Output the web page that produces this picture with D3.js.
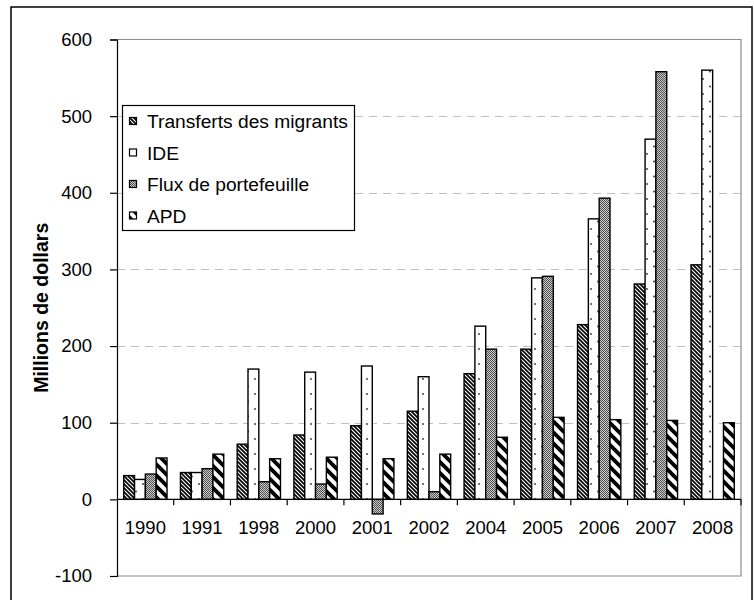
<!DOCTYPE html>
<html><head><meta charset="utf-8">
<script src="https://cdn.jsdelivr.net/npm/d3@7"></script>
<style>body{margin:0;background:#fff}svg{display:block}</style>
</head><body>
<svg id="c" width="754" height="600"></svg>
<script>
const categories = ["1990","1991","1998","2000","2001","2002","2004","2005","2006","2007","2008"];
const seriesNames = ["Transferts des migrants","IDE","Flux de portefeuille","APD"];
const transferts = [31, 35, 72, 84, 96, 115, 164, 196, 228, 281, 306];
const ide = [26, 35, 170, 166, 174, 160, 226, 289, 366, 470, 560];
const flux = [33, 40, 23, 20, -19, 10, 196, 291, 393, 558, null];
const apd = [54, 59, 53, 55, 53, 59, 81, 107, 104, 103, 100];
const yTicks = [-100, 0, 100, 200, 300, 400, 500, 600];
const yTitle = "Millions de dollars";

const seriesValues = [transferts, ide, flux, apd];
const patternIds = ["pT","pI","pF","pA"];

const svg = d3.select("#c");
const FONT = "'Liberation Sans', Arial, sans-serif";

// patterns
const defs = svg.append("defs");
{
  const p = defs.append("pattern").attr("id","pT").attr("patternUnits","userSpaceOnUse").attr("width",4).attr("height",4);
  p.append("rect").attr("width",4).attr("height",4).attr("fill","#fff");
  p.append("path").attr("d","M-1,-1L5,5M-1,3L1,5M3,-1L5,1").attr("stroke","#000").attr("stroke-width",1.7);
}
{
  const p = defs.append("pattern").attr("id","pA").attr("patternUnits","userSpaceOnUse").attr("width",11).attr("height",11);
  p.append("rect").attr("width",11).attr("height",11).attr("fill","#fff");
  p.append("path").attr("d","M-2,-2L13,13M-2,9L2,13M9,-2L13,2").attr("stroke","#000").attr("stroke-width",3.8);
}
{
  const p = defs.append("pattern").attr("id","pI").attr("patternUnits","userSpaceOnUse").attr("width",14).attr("height",15);
  p.append("rect").attr("width",14).attr("height",15).attr("fill","#fff");
  p.append("circle").attr("cx",3).attr("cy",4).attr("r",0.9).attr("fill","#333");
  p.append("circle").attr("cx",10).attr("cy",11.5).attr("r",0.9).attr("fill","#333");
}
{
  const p = defs.append("pattern").attr("id","pF").attr("patternUnits","userSpaceOnUse").attr("width",2).attr("height",2);
  p.append("rect").attr("width",2).attr("height",2).attr("fill","#cccccc");
  p.append("rect").attr("width",1).attr("height",1).attr("fill","#505050");
  p.append("rect").attr("x",1).attr("y",1).attr("width",1).attr("height",1).attr("fill","#505050");
}

// outer frame
svg.append("rect").attr("x",11).attr("y",7).attr("width",741).attr("height",610)
  .attr("fill","none").attr("stroke","#000").attr("stroke-width",1.5);

const L = 117, R = 741, T = 39.5, B = 576;
const y = d3.scaleLinear().domain([-100, 600]).range([B, T]);
const x0 = d3.scaleBand().domain(categories).range([L, R]).padding(0);
const x1 = d3.scaleBand().domain(seriesNames).range([0, x0.bandwidth()]).paddingInner(0).paddingOuter(0.62);

// gridlines
svg.append("g").selectAll("line").data(yTicks.filter(v => v > 0 && v < 600)).join("line")
  .attr("x1", L).attr("x2", R).attr("y1", d => Math.round(y(d))+0.5).attr("y2", d => Math.round(y(d))+0.5)
  .attr("stroke","#c0c0c0").attr("stroke-width",1).attr("stroke-dasharray","8,6");

// plot border (top/right/bottom gray)
svg.append("path").attr("d", `M${L},${T}H${R}V${B}H${L}`).attr("fill","none").attr("stroke","#8c8c8c").attr("stroke-width",1.2);

// bars
const rows = [];
categories.forEach((c, i) => seriesNames.forEach((s, j) => {
  const v = seriesValues[j][i];
  if (v !== null && v !== undefined) rows.push({c, s, j, v});
}));
svg.append("g").selectAll("rect").data(rows).join("rect")
  .attr("x", d => x0(d.c) + x1(d.s))
  .attr("width", x1.bandwidth())
  .attr("y", d => y(Math.max(0, d.v)))
  .attr("height", d => Math.abs(y(d.v) - y(0)))
  .attr("fill", d => `url(#${patternIds[d.j]})`)
  .attr("stroke", "#000").attr("stroke-width", 1.4);

// y axis
const yAxis = d3.axisLeft(y).tickValues(yTicks).tickSize(7).tickPadding(18).tickFormat(d => String(d));
const gy = svg.append("g").attr("transform", `translate(${L},0)`).call(yAxis);
gy.select(".domain").attr("stroke","#000").attr("stroke-width",1.2);
gy.selectAll(".tick line").attr("stroke","#000").attr("stroke-width",1.2);
gy.selectAll("text").attr("font-family", FONT).attr("font-size", 18.5).attr("fill","#000");

// x axis at zero
const xEdges = d3.range(categories.length + 1).map(i => L + i * x0.step());
svg.append("line").attr("x1", L).attr("x2", R).attr("y1", y(0)).attr("y2", y(0)).attr("stroke","#000").attr("stroke-width",1.4);
svg.append("g").selectAll("line").data(xEdges.slice(1)).join("line")
  .attr("x1", d => d).attr("x2", d => d).attr("y1", y(0)).attr("y2", y(0) + 6)
  .attr("stroke","#000").attr("stroke-width",1.2);
svg.append("g").selectAll("text").data(categories).join("text")
  .attr("x", d => x0(d) + x0.bandwidth()/2).attr("y", y(0) + 35)
  .attr("text-anchor","middle").attr("font-family", FONT).attr("font-size", 18.5).text(d => d);

// y title
svg.append("text").attr("transform", `translate(48,${(T+B)/2}) rotate(-90)`)
  .attr("text-anchor","middle").attr("font-family", FONT).attr("font-weight","bold").attr("font-size", 19.5).text(yTitle);

// legend
const lg = svg.append("g");
lg.append("rect").attr("x",122.5).attr("y",105.5).attr("width",232).attr("height",125).attr("fill","#fff").attr("stroke","#000").attr("stroke-width",1.2);
const rowY = [121, 152.5, 184, 215.5];
seriesNames.forEach((s, j) => {
  lg.append("rect").attr("x",129.5).attr("y",rowY[j]-3.5).attr("width",7).attr("height",7)
    .attr("fill",`url(#${patternIds[j]})`).attr("stroke","#000").attr("stroke-width",1.2);
  lg.append("text").attr("x",147).attr("y",rowY[j]+7).attr("font-family",FONT).attr("font-size",19.2).text(s);
});
</script>
</body></html>
